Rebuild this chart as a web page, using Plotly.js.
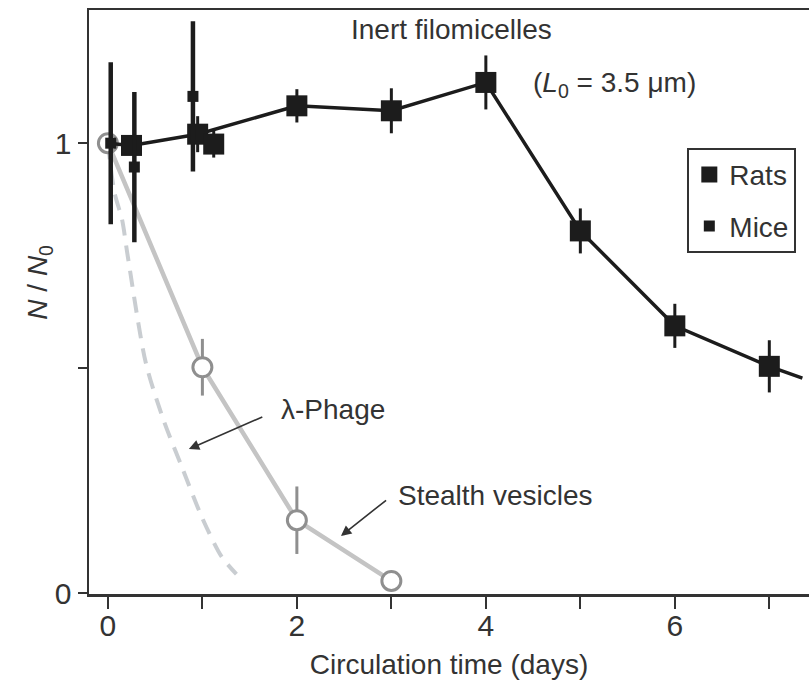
<!DOCTYPE html>
<html>
<head>
<meta charset="utf-8">
<script src="https://cdn.plot.ly/plotly-3.0.1.min.js"></script>
<style>
  html, body { margin: 0; padding: 0; background: #fff; }
  #chart { width: 809px; height: 688px; }
</style>
</head>
<body>
<div id="chart"></div>
<script>
// Inert filomicelles (rats): days, N/N0 and error half-widths
const ratDays = [0, 0.25, 0.95, 2, 3, 4, 5, 6, 7];
const ratVals = [1.0, 0.995, 1.02, 1.083, 1.072, 1.135, 0.805, 0.594, 0.504];
const ratErr  = [0, 0.02, 0.04, 0.037, 0.05, 0.06, 0.05, 0.049, 0.058];
// line continues past the last measurement to the frame edge
const ratTailDay = 7.35;
const ratTailVal = 0.478;
// extra rat measurement near day 1, not on the connecting line
const ratExtraDays = [1.12];
const ratExtraVals = [0.998];
const ratExtraErr  = [0.03];

// Inert filomicelles (mice)
const miceDays = [0.03, 0.28, 0.9];
const miceVals = [1.0, 0.947, 1.104];
const miceErr  = [0.18, 0.167, 0.167];

// Stealth vesicles
const vesDays = [0, 1, 2, 3];
const vesVals = [1.0, 0.502, 0.162, 0.027];
const vesErr  = [0, 0.063, 0.075, 0];

// lambda-phage clearance curve
const phageDays = [0, 0.07, 0.15, 0.21, 0.4, 0.585, 0.78, 0.99, 1.2, 1.36];
const phageVals = [1.0, 0.89, 0.83, 0.749, 0.513, 0.387, 0.282, 0.171, 0.082, 0.042];

// axis ticks
const xTickVals = [0, 1, 2, 3, 4, 5, 6, 7];
const xTickText = ['0', '', '2', '', '4', '', '6', ''];
const yTickVals = [0, 0.5, 1];
const yTickText = ['0', '', '1'];

const FONT = 'Liberation Sans, Arial, Helvetica, sans-serif';
const TXT = '#333333';
const INK = '#1c1c1c';

const traces = [
  {
    x: phageDays, y: phageVals, type: 'scatter', mode: 'lines',
    line: { color: '#c9cdd1', width: 4, dash: '16px,10px', shape: 'spline', smoothing: 0.8 },
    showlegend: false, hoverinfo: 'skip'
  },
  {
    x: vesDays, y: vesVals, type: 'scatter', mode: 'lines+markers',
    line: { color: '#c4c4c4', width: 4.5 },
    marker: { symbol: 'circle', size: 19, color: '#ffffff', line: { color: '#8f8f8f', width: 3 } },
    error_y: { type: 'data', array: vesErr, visible: true, color: '#8f8f8f', thickness: 3, width: 0 },
    showlegend: false
  },
  {
    x: ratDays.concat([ratTailDay]), y: ratVals.concat([ratTailVal]),
    type: 'scatter', mode: 'lines',
    line: { color: INK, width: 3.5 },
    showlegend: false, hoverinfo: 'skip'
  },
  {
    x: ratDays.slice(1), y: ratVals.slice(1), type: 'scatter', mode: 'markers',
    name: 'Rats', legendgroup: 'rats',
    marker: { symbol: 'square', size: 21, color: INK },
    error_y: { type: 'data', array: ratErr.slice(1), visible: true, color: INK, thickness: 3, width: 0 }
  },
  {
    x: ratExtraDays, y: ratExtraVals, type: 'scatter', mode: 'markers',
    legendgroup: 'rats',
    marker: { symbol: 'square', size: 21, color: INK },
    error_y: { type: 'data', array: ratExtraErr, visible: true, color: INK, thickness: 3, width: 0 },
    showlegend: false
  },
  {
    x: miceDays, y: miceVals, type: 'scatter', mode: 'markers',
    name: 'Mice', legendgroup: 'mice',
    marker: { symbol: 'square', size: 11, color: INK },
    error_y: { type: 'data', array: miceErr, visible: true, color: INK, thickness: 4.5, width: 0 }
  }
];

const annFont = { family: FONT, size: 28, color: TXT };

const layout = {
  width: 809, height: 688,
  margin: { l: 89, r: 0, t: 10, b: 94 },
  paper_bgcolor: '#ffffff', plot_bgcolor: '#ffffff',
  font: { family: FONT, size: 28, color: TXT },
  xaxis: {
    range: [-0.2, 7.42],
    tickvals: xTickVals, ticktext: xTickText,
    ticks: 'outside', ticklen: 12, tickwidth: 2, tickcolor: '#333',
    ticklabelstandoff: -9,
    showline: true, linecolor: '#333', linewidth: 2.5, mirror: true,
    showgrid: false, zeroline: false,
    tickfont: { family: FONT, size: 30, color: TXT },
    title: { text: 'Circulation time (days)', font: { family: FONT, size: 28, color: TXT }, standoff: 14 }
  },
  yaxis: {
    range: [-0.002, 1.296],
    tickvals: yTickVals, ticktext: yTickText,
    ticks: 'outside', ticklen: 9, tickwidth: 2, tickcolor: '#333',
    showline: true, linecolor: '#333', linewidth: 2.5, mirror: false,
    showgrid: false, zeroline: false,
    tickfont: { family: FONT, size: 30, color: TXT }
  },
  legend: {
    x: 0.831, y: 0.764, xanchor: 'left', yanchor: 'top',
    bgcolor: '#ffffff', bordercolor: '#333', borderwidth: 2,
    font: { family: FONT, size: 28, color: TXT },
    itemsizing: 'trace', traceorder: 'grouped', tracegroupgap: 12
  },
  annotations: [
    { xref: 'paper', yref: 'y', x: -0.068, y: 0.69, textangle: -90,
      xanchor: 'center', yanchor: 'middle',
      text: '<i>N</i> / <i>N</i><sub>0</sub>', showarrow: false, font: annFont },
    { xref: 'x', yref: 'y', x: 2.55, y: 1.253, xanchor: 'left',
      text: 'Inert filomicelles', showarrow: false, font: annFont },
    { xref: 'x', yref: 'y', x: 4.48, y: 1.131, xanchor: 'left',
      text: '(<i>L</i><sub>0</sub> = 3.5 μm)', showarrow: false, font: annFont },
    { xref: 'x', yref: 'y', x: 1.81, y: 0.407, xanchor: 'left',
      text: 'λ-Phage', showarrow: false, font: annFont },
    { xref: 'x', yref: 'y', x: 3.05, y: 0.216, xanchor: 'left',
      text: 'Stealth vesicles', showarrow: false, font: annFont },
    { xref: 'x', yref: 'y', axref: 'x', ayref: 'y',
      x: 0.857, y: 0.32, ax: 1.65, ay: 0.393, text: '',
      showarrow: true, arrowhead: 2, arrowsize: 1.3, arrowwidth: 1.6, arrowcolor: '#333' },
    { xref: 'x', yref: 'y', axref: 'x', ayref: 'y',
      x: 2.466, y: 0.127, ax: 2.96, ay: 0.209, text: '',
      showarrow: true, arrowhead: 2, arrowsize: 1.3, arrowwidth: 1.6, arrowcolor: '#333' }
  ]
};

Plotly.newPlot('chart', traces, layout, { displayModeBar: false, staticPlot: true });
</script>
</body>
</html>
